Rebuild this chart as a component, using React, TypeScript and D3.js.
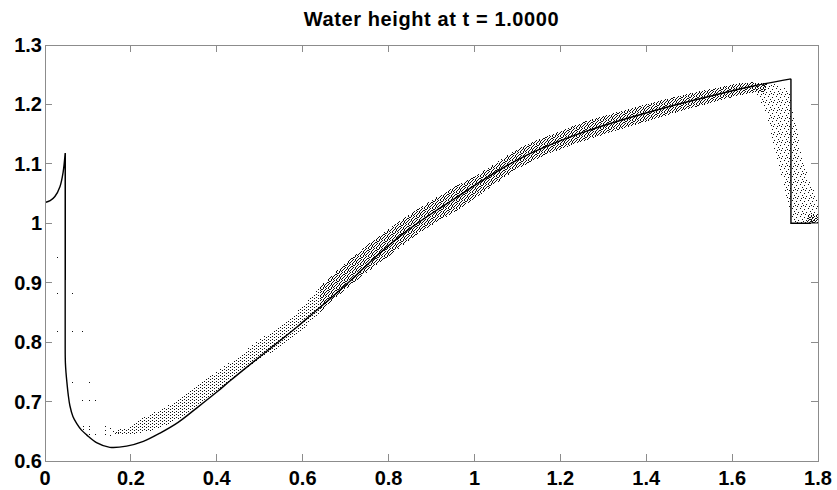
import React from 'react';
import * as d3 from 'd3';

const W = 837;
const H = 490;
const M = { left: 45, right: 19, top: 45, bottom: 29 };

const xTicks = [0, 0.2, 0.4, 0.6, 0.8, 1, 1.2, 1.4, 1.6, 1.8];
const yTicks = [0.6, 0.7, 0.8, 0.9, 1, 1.1, 1.2, 1.3];
const titleText = 'Water height at t = 1.0000';

// exact solution (solid line)
const exactX = [0, 0.012, 0.023, 0.035, 0.042, 0.047, 0.047, 0.0475, 0.049, 0.0505, 0.054, 0.058, 0.065, 0.074, 0.085, 0.097, 0.12, 0.151, 0.19, 0.229, 0.268, 0.31, 0.353, 0.4, 0.431, 0.47, 0.508, 0.55, 0.586, 0.62, 0.664, 0.718, 0.757, 0.796, 0.835, 0.873, 0.912, 0.951, 0.997, 1.05, 1.106, 1.183, 1.261, 1.339, 1.416, 1.494, 1.572, 1.65, 1.737, 1.737, 1.8];
const exactH = [1.035, 1.038, 1.045, 1.062, 1.085, 1.118, 0.79, 0.765, 0.748, 0.736, 0.712, 0.693, 0.675, 0.663, 0.652, 0.644, 0.631, 0.623, 0.625, 0.633, 0.647, 0.665, 0.689, 0.716, 0.735, 0.758, 0.78, 0.804, 0.825, 0.846, 0.873, 0.908, 0.935, 0.96, 0.983, 1.003, 1.022, 1.04, 1.062, 1.086, 1.109, 1.134, 1.155, 1.173, 1.189, 1.204, 1.218, 1.231, 1.243, 1.0, 1.0];
// index ranges of smooth pieces of the exact solution (the rest are straight jumps)
const smoothPieces = [[0, 5], [6, 48]];
const jumpPieces = [[5, 6], [48, 50]];

// particle cloud, rising part (sparser)
const risingX = [0.165, 0.2, 0.229, 0.275, 0.353, 0.431, 0.508, 0.586, 0.64];
const risingLow = [0.643, 0.645, 0.648, 0.658, 0.69, 0.735, 0.774, 0.812, 0.85];
const risingHigh = [0.652, 0.658, 0.673, 0.688, 0.726, 0.766, 0.808, 0.85, 0.893];

// particle cloud, crest part (dense)
const crestX = [0.64, 0.718, 0.796, 0.873, 0.951, 1.013, 1.106, 1.183, 1.261, 1.339, 1.416, 1.494, 1.572, 1.642, 1.68];
const crestLow = [0.85, 0.9, 0.942, 0.985, 1.018, 1.048, 1.094, 1.12, 1.14, 1.158, 1.175, 1.191, 1.207, 1.219, 1.222];
const crestHigh = [0.893, 0.944, 0.988, 1.026, 1.06, 1.084, 1.127, 1.15, 1.172, 1.188, 1.203, 1.217, 1.229, 1.237, 1.236];

// particle cloud, collapsing front (rows)
const frontH = [1.235, 1.22, 1.205, 1.191, 1.162, 1.135, 1.106, 1.078, 1.05, 1.022, 1.0];
const frontLeft = [1.645, 1.655, 1.665, 1.676, 1.688, 1.695, 1.707, 1.716, 1.723, 1.735, 1.745];
const frontRight = [1.7, 1.733, 1.737, 1.74, 1.751, 1.758, 1.765, 1.777, 1.793, 1.8, 1.8];

// dense cluster at the right end
const clusterX = [1.775, 1.8];
const clusterLow = [1.0, 1.0];
const clusterHigh = [1.016, 1.013];

// stacked particles in the shock column
const shockX = [0.047];
const shockLow = [0.905];
const shockHigh = [1.118];

// isolated particles
const sparseX = [0.027, 0.027, 0.063, 0.027, 0.063, 0.085, 0.063, 0.102, 0.085, 0.102, 0.116, 0.088, 0.102, 0.088, 0.102, 0.14, 0.14, 0.151, 0.102, 0.116, 0.14, 0.151, 0.163, 0.17, 0.158];
const sparseH = [0.943, 0.882, 0.882, 0.818, 0.818, 0.818, 0.733, 0.733, 0.702, 0.702, 0.702, 0.659, 0.659, 0.654, 0.654, 0.659, 0.653, 0.655, 0.645, 0.645, 0.645, 0.644, 0.647, 0.649, 0.651];

// texture tiles (pixel offsets of dots inside a tile)
const densePts = [[0, 0], [3, 0], [6, 0], [2, 1], [5, 1], [1, 1], [0, 2], [4, 2], [7, 2], [1, 3], [3, 3], [6, 3], [5, 4], [0, 4], [3, 4], [2, 5], [4, 5], [7, 5], [1, 6], [6, 6], [4, 6], [3, 7], [5, 7], [0, 7]];
const sparsePts = [[0, 0], [0, 3], [2, 1], [2, 4]];
const frontPts = [[0, 0], [4, 1], [2, 3], [6, 4], [1, 6], [5, 6], [3, 5]];

export default function App() {
  const x = d3.scaleLinear().domain([0, 1.8]).range([M.left, W - M.right]);
  const y = d3.scaleLinear().domain([0.6, 1.3]).range([H - M.bottom, M.top]);
  const x0 = M.left, x1 = W - M.right, y0 = M.top, y1 = H - M.bottom;

  const pieceLine = (a: number, b: number, curve: any) =>
    d3.line<number>().x((i) => x(exactX[i])).y((i) => y(exactH[i])).curve(curve)(d3.range(a, b + 1)) || '';

  const linePath =
    smoothPieces.map(([a, b]) => pieceLine(a, b, d3.curveCatmullRom.alpha(0.5))).join('') +
    jumpPieces.map(([a, b]) => pieceLine(a, b, d3.curveLinear)).join('');

  const bandArea = (xs: number[], lo: number[], hi: number[]) =>
    d3.area<number>()
      .x((i) => x(xs[i]))
      .y0((i) => y(lo[i]))
      .y1((i) => y(hi[i]))
      .curve(d3.curveMonotoneX)(xs.map((_, i) => i)) || '';

  const frontArea = d3.area<number>()
    .y((i) => y(frontH[i]))
    .x0((i) => x(frontLeft[i]))
    .x1((i) => x(frontRight[i]))
    .curve(d3.curveMonotoneY)(frontH.map((_, i) => i)) || '';

  const fmt = (v: number) => String(+v.toFixed(1));
  const axisColor = '#8c8c8c';
  const tick = 7;
  const font = '"Liberation Sans", Arial, Helvetica, sans-serif';

  const pattern = (id: string, w: number, h: number, pts: number[][]) => (
    <pattern id={id} width={w} height={h} patternUnits="userSpaceOnUse">
      {pts.map(([px, py], k) => <rect key={k} x={px} y={py} width={1} height={1} fill="#111" />)}
    </pattern>
  );

  return (
    <svg width={W} height={H} style={{ position: 'absolute', left: 0, top: 0, background: '#fff' }}>
      <defs>
        <clipPath id="plot"><rect x={x0} y={y0} width={x1 - x0} height={y1 - y0} /></clipPath>
        {pattern('dense', 8, 8, densePts)}
        {pattern('sparse', 4, 6, sparsePts)}
        {pattern('front', 8, 8, frontPts)}
      </defs>
      <rect x={0} y={0} width={W} height={H} fill="#fff" />
      <text x={(x0 + x1) / 2} y={26} textAnchor="middle" fontFamily={font} fontWeight="bold" fontSize={20} letterSpacing={0.6} fill="#000">{titleText}</text>

      <g clipPath="url(#plot)" shapeRendering="crispEdges">
        <path d={bandArea(risingX, risingLow, risingHigh)} fill="url(#sparse)" />
        <path d={bandArea(crestX, crestLow, crestHigh)} fill="url(#dense)" />
        <path d={frontArea} fill="url(#front)" />
        <path d={bandArea(clusterX, clusterLow, clusterHigh)} fill="url(#dense)" />
        {shockX.map((sx, i) => (
          <rect key={'s' + i} x={x(sx)} y={y(shockHigh[i])} width={1} height={y(shockLow[i]) - y(shockHigh[i])} fill="#111" />
        ))}
        {sparseX.map((sx, i) => (
          <rect key={'p' + i} x={Math.round(x(sx))} y={Math.round(y(sparseH[i]))} width={1} height={1} fill="#111" />
        ))}
      </g>
      <path d={linePath} fill="none" stroke="#000" strokeWidth={1.4} clipPath="url(#plot)" />

      <g shapeRendering="crispEdges" stroke={axisColor} strokeWidth={1}>
        <rect x={x0} y={y0} width={x1 - x0} height={y1 - y0} fill="none" />
        {xTicks.map((t) => (
          <g key={'xt' + t}>
            <line x1={x(t)} x2={x(t)} y1={y1} y2={y1 - tick} />
            <line x1={x(t)} x2={x(t)} y1={y0} y2={y0 + tick} />
          </g>
        ))}
        {yTicks.map((t) => (
          <g key={'yt' + t}>
            <line x1={x0} x2={x0 + tick} y1={y(t)} y2={y(t)} />
            <line x1={x1} x2={x1 - tick} y1={y(t)} y2={y(t)} />
          </g>
        ))}
      </g>
      {xTicks.map((t) => (
        <text key={'xl' + t} x={x(t)} y={485} textAnchor="middle" fontFamily={font} fontWeight="bold" fontSize={20} fill="#000">{fmt(t)}</text>
      ))}
      {yTicks.map((t) => (
        <text key={'yl' + t} x={42} y={y(t) + 7} textAnchor="end" fontFamily={font} fontWeight="bold" fontSize={20} fill="#000">{fmt(t)}</text>
      ))}
    </svg>
  );
}
